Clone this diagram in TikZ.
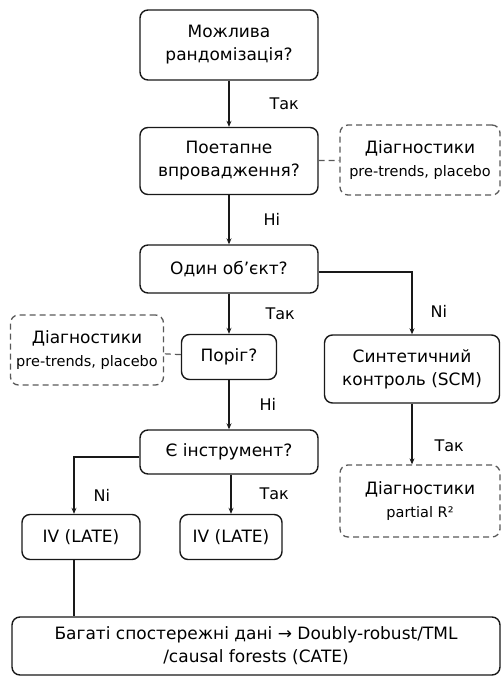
\documentclass[tikz,border=0pt]{standalone}
\usepackage{fontspec}
\setmainfont{DejaVu Sans}
\usetikzlibrary{arrows.meta,positioning}

\begin{document}
\begin{tikzpicture}[x=1pt,y=1pt,
    box/.style={draw=black!90, line width=1.4pt, rounded corners=8pt, align=center,
      font=\fontsize{17}{23}\selectfont, inner sep=2pt},
    diag/.style={draw=black!65, dash pattern=on 6pt off 4pt, line width=1.3pt, rounded corners=8pt,
      align=center, font=\fontsize{17}{23}\selectfont, inner sep=2pt},
    arr/.style={draw=black!90, line width=1.3pt, -{Stealth[length=6pt,width=5pt]}},
    link/.style={draw=black!65, dash pattern=on 6pt off 4pt, line width=1.2pt},
    lbl/.style={font=\fontsize{16}{18}\selectfont, inner sep=0pt}]
  \useasboundingbox (0,0) rectangle (503,-677);
  \node[box, minimum width=178, minimum height=70] (rand) at (229,-45) {Можлива\\рандомізація?};
  \node[box, minimum width=178, minimum height=67] (stag) at (229,-161) {Поетапне\\впровадження?};
  \node[diag, minimum width=160, minimum height=70] (diagA) at (420,-160)
    {Діагностики\\{\fontsize{14.5}{17}\selectfont pre-trends, placebo}};
  \node[box, minimum width=178, minimum height=48] (one) at (229,-269) {Один об’єкт?};
  \node[box, minimum width=95, minimum height=45] (thr) at (229,-357) {Поріг?};
  \node[diag, minimum width=153, minimum height=70] (diagB) at (87,-350)
    {Діагностики\\{\fontsize{14.5}{17}\selectfont pre-trends, placebo}};
  \node[box, minimum width=175, minimum height=68] (scm) at (412,-369) {Синтетичний\\контроль (SCM)};
  \node[box, minimum width=178, minimum height=44] (inst) at (229,-452) {Є інструмент?};
  \node[diag, minimum width=160, minimum height=72] (diagC) at (420,-501)
    {Діагностики\\{\fontsize{14.5}{17}\selectfont partial R²}};
  \node[box, minimum width=118, minimum height=45] (ivA) at (81,-537) {IV (LATE)};
  \node[box, minimum width=102, minimum height=45] (ivB) at (231,-537) {IV (LATE)};
  \node[box, minimum width=488, minimum height=58] (rich) at (256,-646)
    {Багаті спостережні дані → Doubly-robust/TML\\/causal forests (CATE)};

  \draw[arr] (rand) -- node[lbl, right=40pt] {Так} (stag);
  \draw[link] (stag) -- (diagA);
  \draw[arr] (stag) -- node[lbl, right=34pt] {Ні} (one);
  \draw[arr] (one) -- node[lbl, right=36pt] {Так} (thr);
  \draw[arr] (one.east |- 0,-272) -| node[lbl, pos=0.82, right=18pt] {Ni} (scm.north);
  \draw[link] (thr) -- (diagB);
  \draw[arr] (thr) -- node[lbl, right=30pt] {Ні} (inst);
  \draw[arr] (scm.south) -- node[lbl, pos=0.7, right=22pt] {Так} (scm.south |- diagC.north);
  \draw[arr] (inst.west |- 0,-457) -| node[lbl, pos=0.84, right=19pt] {Ni} (ivA.north -| 74,0);
  \draw[arr] (inst.south -| ivB) -- node[lbl, right=28pt] {Так} (ivB);
  \draw[draw=black!90, line width=1.3pt] (ivA.south -| 74,0) -- (rich.north -| 74,0);
\end{tikzpicture}
\end{document}
